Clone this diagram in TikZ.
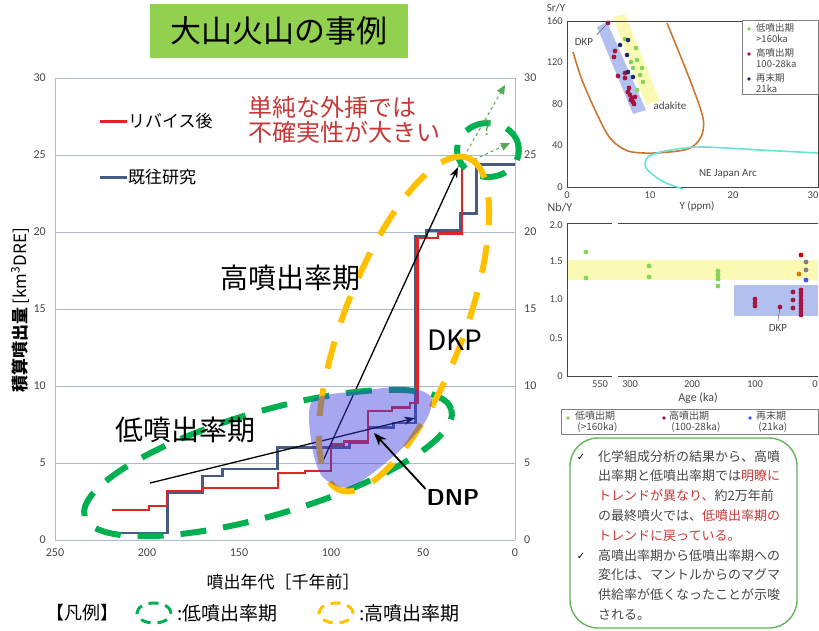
\documentclass[tikz,border=0pt]{standalone}
\usepackage{fontspec}
\setmainfont{Carlito}
\newfontfamily\jp{Noto Sans CJK JP}
\newfontfamily\sym{DejaVu Sans}
\usetikzlibrary{arrows.meta}

\newcommand\fsz[1]{\fontsize{#1}{#1}\selectfont}

\definecolor{titlegreen}{RGB}{146,208,80}
\definecolor{lowgreen}{RGB}{0,176,80}
\definecolor{highorange}{RGB}{255,192,0}
\definecolor{revred}{RGB}{222,38,38}
\definecolor{oldblue}{RGB}{70,92,132}
\definecolor{gridblue}{RGB}{172,188,208}
\definecolor{dnpblue}{RGB}{60,60,225}
\definecolor{notered}{RGB}{200,55,55}
\definecolor{arrowgreen}{RGB}{85,170,85}
\definecolor{tickgray}{RGB}{70,70,70}
\definecolor{adakite}{RGB}{200,120,50}
\definecolor{arccyan}{RGB}{100,228,212}
\definecolor{dotgreen}{RGB}{130,212,90}
\definecolor{dotred}{RGB}{168,20,62}
\definecolor{dotnavy}{RGB}{30,40,110}
\definecolor{bandblue}{RGB}{178,192,240}
\definecolor{bandyellow}{RGB}{250,250,180}
\definecolor{notegreen}{RGB}{100,180,90}

\begin{document}
\begin{tikzpicture}[x=1pt, y=-1pt,
  lowrate/.style={draw=lowgreen, line width=6pt, dash pattern=on 26pt off 17pt},
  highrate/.style={draw=highorange, line width=6pt, dash pattern=on 28pt off 20pt},
  gridline/.style={gridblue, line width=1pt},
  ticklab/.style={font=\fsz{12}, text=tickgray, inner sep=1pt},
  smalllab/.style={font=\fsz{10.5}, text=tickgray, inner sep=1pt},
  legtext/.style={font=\jp\fontsize{9.5}{10.5}\selectfont, text=tickgray, inner sep=0pt, align=left}]

\useasboundingbox (0,0) rectangle (819,630);

% Title
\node[fill=titlegreen, minimum width=258pt, minimum height=54pt, inner sep=0pt,
  font=\jp\fsz{31}] (title) at (279,31) {大山火山の事例};

% Chart (age in ka, volume in km3)
\begin{scope}[shift={(515,540)}, x=-1.84pt, y=15.4pt]
  % Grid
  \foreach \v in {5,10,...,30}
    \draw[gridline] (250,\v) -- (0,\v);
  \draw[gridline] (250,0) -- (0,0);
  \draw[gridline] (250,0) -- (250,30);
  \draw[gridline] (0,0) -- (0,30);

  % Ticks
  \foreach \v in {0,5,...,30} {
    \node[ticklab, anchor=east] (yl\v) at ([xshift=-8pt]250,\v) {\v};
    \node[ticklab, anchor=west] (yr\v) at ([xshift=8pt]0,\v) {\v};
  }
  \foreach \a in {0,50,...,250}
    \node[ticklab, anchor=north] (xl\a) at ([yshift=-8pt]\a,0) {\a};

  % Steps
  \draw[oldblue, line width=2.6pt] (218,0.45) -| (189,3.1) -| (170,4.15) -| (159,4.6)
    -| (129,6.0) -| (90,6.3) -| (80,7.3) -| (66,7.6) -| (54,19.7) -| (48,20.1)
    -| (30,21.2) -| (21,24.4) -- (0,24.4);
  \draw[revred, line width=2.2pt] (219,1.95) -| (199,2.2) -| (189,3.2) -| (170,3.4)
    -| (129,4.35) -| (114,4.5) -| (100,6.2) -| (93,6.4) -| (80,8.4) -| (67,8.6)
    -| (57,8.9) -| (53,19.6) -| (42,19.9) -| (29,24.3);
\end{scope}

% Legend in chart
\coordinate (revA) at (100,121);
\coordinate (revB) at (127,121);
\coordinate (oldA) at (100,177);
\coordinate (oldB) at (127,177);
\draw[revred, line width=3pt] (revA) -- (revB);
\draw[oldblue, line width=3pt] (oldA) -- (oldB);
\node[anchor=west, inner sep=1pt, font=\jp\fsz{17}] (revlab) at (revB) {リバイス後};
\node[anchor=west, inner sep=1pt, font=\jp\fsz{17}] (oldlab) at (oldB) {既往研究};

% Trends
\coordinate (lowstart) at (150,483);
\coordinate (lowend) at (415,418);
\coordinate (highstart) at (322,463);
\coordinate (highend) at (458,167);
\coordinate (upA) at (505,85);
\coordinate (upB) at (510,143);
\draw[-{Stealth[length=11pt, width=8pt]}, line width=1.3pt] (lowstart) -- (lowend);
\draw[-{Stealth[length=11pt, width=8pt]}, line width=1.3pt] (highstart) -- (highend);
\draw[arrowgreen, dashed, line width=1pt, -{Triangle[length=9pt, width=8pt]}] (highend) -- (upA);
\draw[arrowgreen, dashed, line width=1pt, -{Triangle[length=9pt, width=8pt]}] (highend) -- (upB);

% Periods
\draw[lowrate, rotate around={16.3:(268,463)}] (268,463) ellipse [x radius=191pt, y radius=52pt];
\draw[lowrate] (488,150) ellipse [x radius=31pt, y radius=27pt];
\draw[highrate, rotate around={68.9:(404,324)}] (404,324) ellipse [x radius=178pt, y radius=60pt];

% DNP
\fill[dnpblue, opacity=0.45] plot[smooth cycle] coordinates
  {(313,400) (360,391) (405,387) (431,397) (425,422) (395,455) (350,487) (322,476) (311,440)};
\node[font=\sffamily\bfseries\fsz{23}, inner sep=1pt] (dnp) at (453,498) {DNP};
\coordinate (dnptip) at (374,433);
\draw[-{Stealth[length=13pt, width=10pt]}, line width=1.8pt] (dnp.north west) -- (dnptip);

% Labels
\node[font=\jp\fsz{28}] (highlab) at (290,278) {高噴出率期};
\node[font=\jp\fsz{28}] (lowlab) at (185,430) {低噴出率期};
\node[font=\jp\fsz{28}] (dkp) at (455,340) {DKP};
\node[font=\jp\fontsize{24}{25}\selectfont, text=notered, align=left, anchor=west, inner sep=0pt]
  (warn) at (248,120) {単純な外挿では\\不確実性が大きい};
\node[font=\sffamily\fsz{22}, text=arrowgreen] (qmark) at (487,128) {?};

% Axis titles
\node[rotate=90, font=\jp\fsz{17}, inner sep=0pt] (ytitle) at (20,310)
  {\bfseries 積算噴出量\mdseries\,[km\textsuperscript{3}DRE]};
\node[font=\jp\fsz{17}] (xtitle) at (283,582) {噴出年代［千年前］};

% Legend below
\node[font=\jp\fsz{18}] (hanrei) at (82,613) {【凡例】};
\draw[draw=lowgreen, line width=3pt, dash pattern=on 10pt off 7pt] (154,613) ellipse [x radius=17pt, y radius=10pt];
\node[font=\jp\fsz{19}, anchor=west] (legLow) at (174,613) {:低噴出率期};
\draw[draw=highorange, line width=3pt, dash pattern=on 10pt off 7pt] (336,613) ellipse [x radius=17pt, y radius=10pt];
\node[font=\jp\fsz{19}, anchor=west] (legHigh) at (356,613) {:高噴出率期};

% Sr/Y plot
\fill[bandyellow] (613,17) -- (625,14) -- (660,101) -- (646,105) -- cycle;
\fill[bandblue] (597,27) -- (607,22) -- (646,110) -- (633,114) -- cycle;
\draw[tickgray, line width=0.8pt] (567,21) rectangle (818,187);
\foreach \v/\py in {0/187,40/145,80/104,120/62,160/21}
  \node[smalllab, anchor=east] (sy\v) at (564,\py) {\v};
\foreach \v/\px in {0/567,10/650,20/733,30/813}
  \node[smalllab, anchor=north] (sx\v) at (\px,190) {\v};
\node[font=\fsz{11}, text=tickgray] (srlab) at (556,8) {Sr/Y};
\node[font=\fsz{11}, text=tickgray] (ylab) at (697,206) {Y (ppm)};
\draw[adakite, line width=1.6pt] plot[smooth] coordinates
  {(573,52) (582,80) (596,112) (610,138) (628,151) (655,153) (688,149) (701,137) (703,118) (690,80) (667,23)};
\draw[arccyan, line width=1.6pt] plot[smooth] coordinates
  {(818,153) (760,150) (700,147) (665,151) (648,157) (646,168) (662,181) (683,189)};
\foreach \px/\py in {625/39,636/48,637/60,633/68,642/68,643/82,637/90,631/62,640/75}
  \fill[dotgreen] (\px,\py) circle[radius=2.3pt];
\foreach \px/\py in {608/23,615/51,614/57,618/76,625/73,629/88,630/95,632/98,633/102,628/92,635/97,625/78,631/100,634/104}
  \fill[dotred] (\px,\py) circle[radius=2.4pt];
\foreach \px/\py in {620/45,628/40,627/55,628/72,633/77}
  \fill[dotnavy] (\px,\py) circle[radius=2.3pt];
\node[font=\fsz{11}, text=tickgray] (adklab) at (670,106) {adakite};
\node[font=\fsz{11}, text=tickgray] (arclab) at (728,174) {NE Japan Arc};
\node[font=\fsz{11}, text=tickgray] (srdkp) at (584,42) {DKP};
\coordinate (srdkpdot) at (608,23);
\draw[tickgray] (srdkp.north east) -- (srdkpdot);
% Sr/Y legend
\draw[gray, line width=0.6pt, fill=white] (742,20) rectangle (818,94);
\fill[dotgreen] (749,29) circle[radius=1.8pt];
\fill[dotred] (749,54) circle[radius=1.8pt];
\fill[dotnavy] (749,79) circle[radius=1.8pt];
\node[legtext, anchor=west] (srleg1) at (756,33) {低噴出期\\>160ka};
\node[legtext, anchor=west] (srleg2) at (756,58) {高噴出期\\100-28ka};
\node[legtext, anchor=west] (srleg3) at (756,83) {再末期\\21ka};

% Nb/Y plot
\fill[bandyellow] (567,260) rectangle (818,280);
\fill[bandblue] (734,285) rectangle (818,316);
\draw[tickgray, line width=0.8pt] (567,223) -- (567,376) -- (612,376);
\draw[tickgray, line width=0.8pt] (618,376) -- (818,376);
\draw[tickgray, line width=0.8pt] (567,223) -- (612,223);
\draw[tickgray, line width=0.8pt] (618,223) -- (818,223);
\foreach \v/\py in {0/376,0.5/338,1.0/299,1.5/261,2.0/225}
  \node[smalllab, anchor=east] (ny\v) at (564,\py) {\v};
\foreach \v/\px in {550/600,300/630,200/692,100/755,0/815}
  \node[smalllab, anchor=north] (nx\v) at (\px,379) {\v};
\node[font=\fsz{12}, text=tickgray] (nblab) at (560,208) {Nb/Y};
\node[font=\fsz{12}, text=tickgray] (agelab) at (698,398) {Age (ka)};
\foreach \px/\py in {586/252,586/278,649/266,649/277,718/271,718/275,718/279,718/286}
  \fill[dotgreen] (\px,\py) circle[radius=2.4pt];
\foreach \px/\py in {755/299,755/303,755/306,780/307,793/292,793/300,793/308,801/290,801/293,801/296,801/300,801/303,801/306,801/309,801/312,801/315}
  \fill[dotred] (\px,\py) circle[radius=2.4pt];
\fill[red!85!black] (801,255) circle[radius=2.4pt];
\fill[gray] (806,262) circle[radius=2.4pt];
\fill[gray] (806,270) circle[radius=2.4pt];
\fill[orange!90!black] (799,274) circle[radius=2.4pt];
\fill[blue!70!white] (806,280) circle[radius=2.4pt];
\node[font=\fsz{11}, text=tickgray] (nbdkp) at (778,328) {DKP};
\coordinate (nbdkpdot) at (780,307);
\draw[tickgray] (nbdkp.north) -- (nbdkpdot);
% Nb/Y legend
\draw[gray, line width=0.6pt] (561,409) rectangle (818,434);
\fill[dotgreen] (568,418) circle[radius=1.8pt];
\fill[dotred] (664,418) circle[radius=1.8pt];
\fill[blue!70!white] (750,418) circle[radius=1.8pt];
\node[legtext, anchor=west, font=\jp\fontsize{10}{10.5}\selectfont] (nbleg1) at (575,422) {低噴出期\\\ (>160ka)};
\node[legtext, anchor=west, font=\jp\fontsize{10}{10.5}\selectfont] (nbleg2) at (669,422) {高噴出期\\\ (100-28ka)};
\node[legtext, anchor=west, font=\jp\fontsize{10}{10.5}\selectfont] (nbleg3) at (756,422) {再末期\\\ (21ka)};

% Notes
\draw[notegreen, line width=1.4pt, rounded corners=28pt] (570,438) rectangle (797,628);
\node[font=\sym\fsz{10}] (chk1) at (581,457) {✓};
\node[font=\sym\fsz{10}] (chk2) at (581,556) {✓};
\node[anchor=north west, inner sep=0pt, align=left, text=tickgray,
  font=\jp\fontsize{13}{19.8}\selectfont] (notes) at (598,450)
  {化学組成分析の結果から、高噴\\
   出率期と低噴出率期では\textcolor{notered}{明瞭に}\\
   \textcolor{notered}{トレンドが異なり、}約2万年前\\
   の最終噴火では、\textcolor{notered}{低噴出率期の}\\
   \textcolor{notered}{トレンドに戻っている。}\\
   高噴出率期から低噴出率期への\\
   変化は、マントルからのマグマ\\
   供給率が低くなったことが示唆\\
   される。};

\end{tikzpicture}
\end{document}
